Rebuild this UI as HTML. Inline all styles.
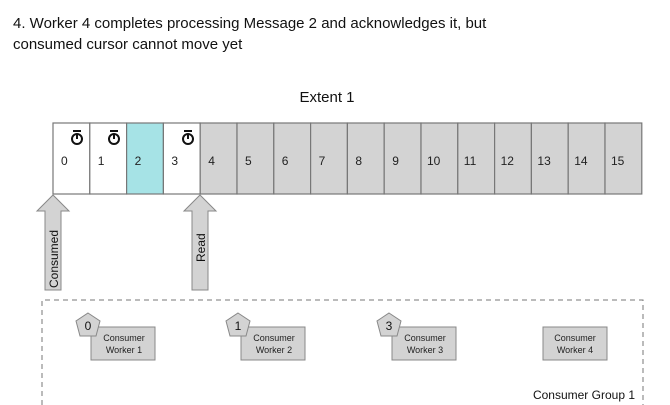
<!DOCTYPE html>
<html><head><meta charset="utf-8"><style>
body{margin:0;background:#fff;}
svg{display:block;font-family:"Liberation Sans",Arial,sans-serif;}
</style></head><body>
<svg width="670" height="405" viewBox="0 0 670 405" xmlns="http://www.w3.org/2000/svg">
<text x="13" y="28" font-size="15" fill="#111">4. Worker 4 completes processing Message 2 and acknowledges it, but</text>
<text x="13" y="49" font-size="15" fill="#111">consumed cursor cannot move yet</text>
<text x="327" y="102" font-size="15" fill="#111" text-anchor="middle">Extent 1</text>
<g stroke="#777" stroke-width="1.2">
<rect x="53" y="123" width="36.8" height="71" fill="#fff"/>
<rect x="89.8" y="123" width="36.8" height="71" fill="#fff"/>
<rect x="126.6" y="123" width="36.8" height="71" fill="#a6e3e6"/>
<rect x="163.4" y="123" width="36.8" height="71" fill="#fff"/>
<rect x="200.2" y="123" width="36.8" height="71" fill="#d3d3d3"/>
<rect x="237" y="123" width="36.8" height="71" fill="#d3d3d3"/>
<rect x="273.8" y="123" width="36.8" height="71" fill="#d3d3d3"/>
<rect x="310.6" y="123" width="36.8" height="71" fill="#d3d3d3"/>
<rect x="347.4" y="123" width="36.8" height="71" fill="#d3d3d3"/>
<rect x="384.2" y="123" width="36.8" height="71" fill="#d3d3d3"/>
<rect x="421" y="123" width="36.8" height="71" fill="#d3d3d3"/>
<rect x="457.8" y="123" width="36.8" height="71" fill="#d3d3d3"/>
<rect x="494.6" y="123" width="36.8" height="71" fill="#d3d3d3"/>
<rect x="531.4" y="123" width="36.8" height="71" fill="#d3d3d3"/>
<rect x="568.2" y="123" width="36.8" height="71" fill="#d3d3d3"/>
<rect x="605" y="123" width="36.8" height="71" fill="#d3d3d3"/>
</g>
<g font-size="12" fill="#222">
<text x="61" y="165">0</text><text x="97.8" y="165">1</text><text x="134.6" y="165">2</text><text x="171.4" y="165">3</text>
<text x="208.2" y="165">4</text><text x="245" y="165">5</text><text x="281.8" y="165">6</text><text x="318.6" y="165">7</text>
<text x="355.4" y="165">8</text><text x="392.2" y="165">9</text><text x="427" y="165">10</text><text x="463.8" y="165">11</text>
<text x="500.6" y="165">12</text><text x="537.4" y="165">13</text><text x="574.2" y="165">14</text><text x="611" y="165">15</text>
</g>
<g fill="none" stroke="#111" stroke-width="2">
<circle cx="77" cy="139" r="5"/><line x1="77" y1="135" x2="77" y2="139"/><line x1="73" y1="131" x2="81" y2="131"/>
<circle cx="114" cy="139" r="5"/><line x1="114" y1="135" x2="114" y2="139"/><line x1="110" y1="131" x2="118" y2="131"/>
<circle cx="188" cy="139" r="5"/><line x1="188" y1="135" x2="188" y2="139"/><line x1="184" y1="131" x2="192" y2="131"/>
</g>
<g fill="#d3d3d3" stroke="#888" stroke-width="1">
<polygon points="53,195 69,211 61,211 61,290 45,290 45,211 37,211"/>
<polygon points="200,195 216,211 208,211 208,290 192,290 192,211 184,211"/>
</g>
<text transform="translate(58,288) rotate(-90)" font-size="12" fill="#111">Consumed</text>
<text transform="translate(205,262) rotate(-90)" font-size="12" fill="#111">Read</text>
<path d="M42,405 V300 H643 V405" fill="none" stroke="#777" stroke-width="1" stroke-dasharray="5,4"/>
<g fill="#d3d3d3" stroke="#888" stroke-width="1">
<rect x="91" y="327" width="64" height="33"/>
<rect x="241" y="327" width="64" height="33"/>
<rect x="392" y="327" width="64" height="33"/>
<rect x="543" y="327" width="64" height="33"/>
<polygon points="88,313 100,321 96,336 80,336 76,321"/>
<polygon points="238,313 250,321 246,336 230,336 226,321"/>
<polygon points="389,313 401,321 397,336 381,336 377,321"/>
</g>
<g font-size="9" fill="#222" text-anchor="middle">
<text x="124" y="341">Consumer</text><text x="124" y="353">Worker 1</text>
<text x="274" y="341">Consumer</text><text x="274" y="353">Worker 2</text>
<text x="425" y="341">Consumer</text><text x="425" y="353">Worker 3</text>
<text x="575" y="341">Consumer</text><text x="575" y="353">Worker 4</text>
</g>
<g font-size="12" fill="#111" text-anchor="middle">
<text x="88" y="330">0</text><text x="238" y="330">1</text><text x="389" y="330">3</text>
</g>
<text x="635" y="399" font-size="12" fill="#111" text-anchor="end">Consumer Group 1</text>
</svg>
</body></html>
